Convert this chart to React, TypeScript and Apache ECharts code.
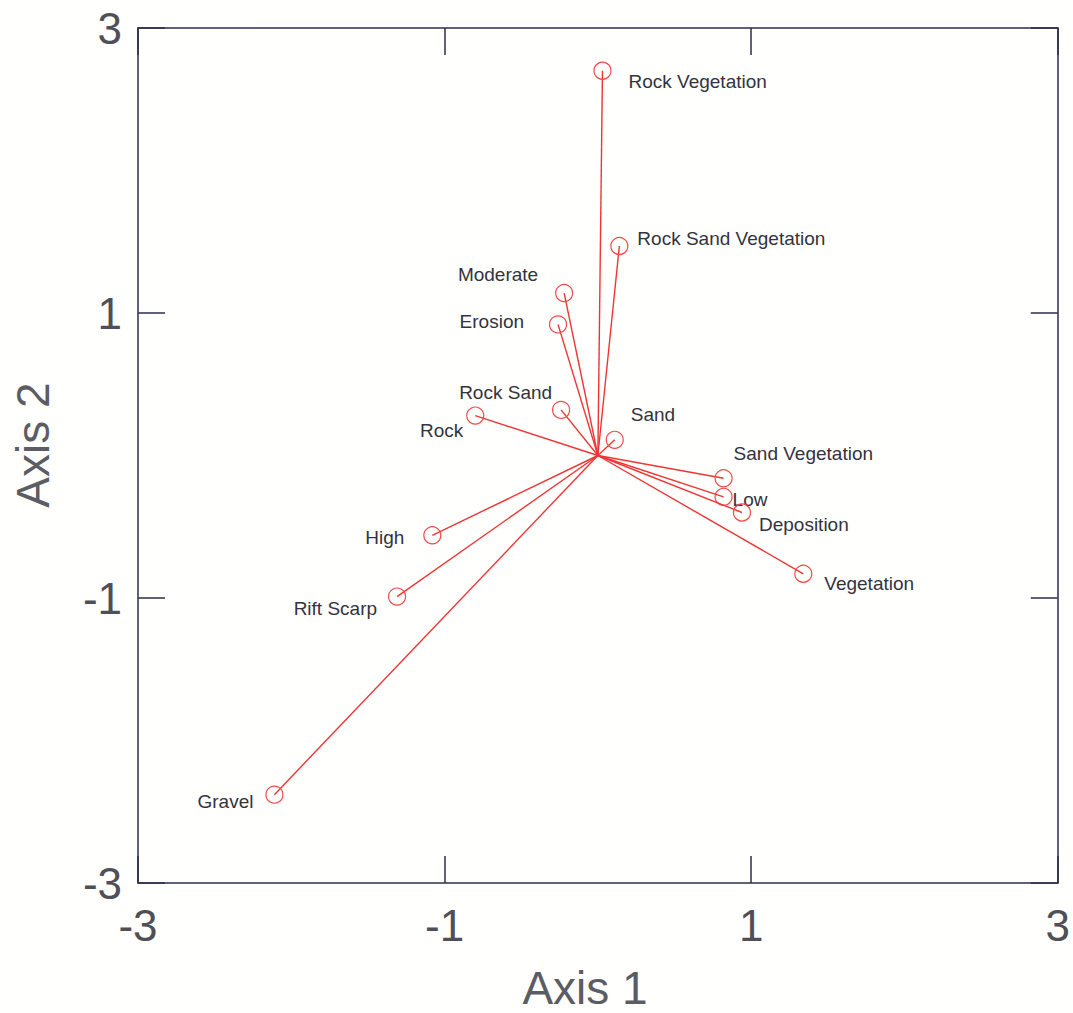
import React, { useEffect, useRef } from "react";
import * as echarts from "echarts";

// Biplot of habitat variables: each vector runs from the origin to its score on Axis 1 / Axis 2.
const variables = [
  "Rock Vegetation",
  "Rock Sand Vegetation",
  "Moderate",
  "Erosion",
  "Rock Sand",
  "Rock",
  "Sand",
  "Sand Vegetation",
  "Low",
  "Deposition",
  "Vegetation",
  "High",
  "Rift Scarp",
  "Gravel",
];
const axis1Scores = [0.03, 0.14, -0.22, -0.26, -0.24, -0.8, 0.11, 0.82, 0.82, 0.94, 1.34, -1.08, -1.31, -2.11];
const axis2Scores = [2.7, 1.47, 1.14, 0.92, 0.32, 0.28, 0.11, -0.16, -0.29, -0.4, -0.83, -0.56, -0.99, -2.38];
const tickValues = [-3, -1, 1, 3];

// Label placement next to each vector tip: [alignment, dx px, dy px]
const labelPlacement: Record<string, [string, number, number]> = {
  "Rock Vegetation": ["left", 26, 11],
  "Rock Sand Vegetation": ["left", 18, -8],
  Moderate: ["right", -26, -19],
  Erosion: ["right", -34, -3],
  "Rock Sand": ["right", -9, -17],
  Rock: ["right", -12, 15],
  Sand: ["left", 16, -25],
  "Sand Vegetation": ["left", 10, -25],
  Low: ["left", 9, 3],
  Deposition: ["left", 17, 12],
  Vegetation: ["left", 21, 10],
  High: ["right", -28, 2],
  "Rift Scarp": ["right", -20, 12],
  Gravel: ["right", -21, 7],
};

const FONT = '"Liberation Sans", Arial, Helvetica, sans-serif';
const FRAME = "#2e2e48";
const TICK_TEXT = "#4f4f57";
const VECTOR = "#ee3535";

export default function App() {
  const ref = useRef<HTMLDivElement>(null);

  useEffect(() => {
    if (!ref.current) return;
    const chart = echarts.init(ref.current, undefined, { renderer: "svg" });

    const axisCommon = {
      type: "value" as const,
      min: -3,
      max: 3,
      interval: 2,
      splitLine: { show: false },
      axisLine: { show: true, onZero: false, lineStyle: { color: FRAME, width: 1.5 } },
      axisTick: {
        show: true,
        inside: true,
        length: 27,
        customValues: tickValues,
        lineStyle: { color: FRAME, width: 1.5 },
      },
    };

    chart.setOption({
      animation: false,
      backgroundColor: "#fffffd",
      grid: { left: 138, top: 28, width: 924, height: 855, containLabel: false },
      xAxis: [
        {
          ...axisCommon,
          position: "bottom",
          axisLabel: {
            show: true,
            customValues: tickValues,
            fontSize: 44,
            fontFamily: FONT,
            color: TICK_TEXT,
            margin: 20,
          },
        },
        { ...axisCommon, position: "top", axisLabel: { show: false } },
      ],
      yAxis: [
        {
          ...axisCommon,
          position: "left",
          axisLabel: {
            show: true,
            customValues: tickValues,
            fontSize: 44,
            fontFamily: FONT,
            color: TICK_TEXT,
            margin: 16,
          },
        },
        { ...axisCommon, position: "right", axisLabel: { show: false } },
      ],
      graphic: [
        {
          type: "text",
          x: 585,
          y: 988,
          style: {
            text: "Axis 1",
            fontSize: 46,
            lineHeight: 40,
            fontFamily: FONT,
            fill: "#5c5c64",
            align: "center",
            verticalAlign: "middle",
          },
        },
        {
          type: "text",
          x: 33,
          y: 445,
          rotation: Math.PI / 2,
          style: {
            text: "Axis 2",
            fontSize: 46,
            fontFamily: FONT,
            fill: "#5c5c64",
            align: "center",
            verticalAlign: "middle",
          },
        },
      ],
      series: [
        {
          type: "custom",
          xAxisIndex: 0,
          yAxisIndex: 0,
          data: variables.map((_, i) => [axis1Scores[i], axis2Scores[i]]),
          encode: { x: 0, y: 1 },
          renderItem: (params: any, api: any) => {
            const name = variables[params.dataIndex];
            const origin = api.coord([0, 0]);
            const tip = api.coord([api.value(0), api.value(1)]);
            const [align, dx, dy] = labelPlacement[name];
            return {
              type: "group",
              children: [
                {
                  type: "line",
                  shape: { x1: origin[0], y1: origin[1], x2: tip[0], y2: tip[1] },
                  style: { stroke: VECTOR, lineWidth: 1.4 },
                },
                {
                  type: "circle",
                  shape: { cx: tip[0], cy: tip[1], r: 8.5 },
                  style: { fill: "none", stroke: "#ef4a4a", lineWidth: 1.2 },
                },
                {
                  type: "text",
                  x: tip[0] + dx,
                  y: tip[1] + dy,
                  style: {
                    text: name,
                    fontSize: 19,
                    fontFamily: FONT,
                    fill: "#33333f",
                    align,
                    verticalAlign: "middle",
                  },
                },
              ],
            };
          },
        },
      ],
    });

    return () => chart.dispose();
  }, []);

  return (
    <div
      ref={ref}
      style={{ position: "fixed", left: 0, top: 0, width: 1073, height: 1013 }}
    />
  );
}
